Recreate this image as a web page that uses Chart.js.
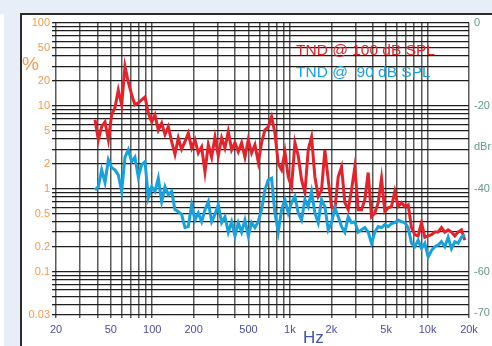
<!DOCTYPE html>
<html><head><meta charset="utf-8">
<script src="https://cdn.jsdelivr.net/npm/chart.js@4.4.1/dist/chart.umd.min.js"></script>
<style>
html,body{margin:0;padding:0;width:492px;height:346px;overflow:hidden;background:#e8eef8;}
#frame{position:absolute;left:20px;top:13px;right:0;bottom:0;background:#fff;border-left:2px solid #2b2b2b;border-top:2px solid #2b2b2b;}
#strip{position:absolute;left:0;top:14px;width:4px;bottom:0;background:#fff;}
canvas{position:absolute;left:0;top:0;}
</style></head><body>
<div id="strip"></div><div id="frame"></div>
<canvas id="c" width="492" height="346"></canvas>
<script>
// ---- data (Hz, % THD+N) ----
const freqHz = [
 38.4,40.6,42.9,45.4,48.0,50.7,53.6,56.7,60.0,63.4,67.0,70.9,74.9,79.2,83.8,88.6,93.7,99.1,104.7,110.7,117.1,123.8,130.9,138.4,146.3,154.7,163.5,172.9,
 182.8,193.3,204.4,216.1,228.5,241.6,255.4,270.1,285.5,301.9,319.2,337.5,356.8,377.3,398.9,421.8,445.9,471.5,498.5,527.1,557.3,589.2,623.0,658.7,696.4,736.3,778.5,823.1,
 870.3,920.1,972.9,1028.6,1087.6,1149.9,1215.8,1285.5,1359.1,1437.0,1519.3,1606.4,1698.4,1795.7,1898.6,2007.4,2122.4,2244.0,2372.5,2508.5,2652.2,2804.1,2964.8,3134.6,3314.2,3504.1,3704.8,3917.0,
 4141,4379,4630,4895,5175,5472,5785,6117,6467,6838,7229,7643,8081,8544,9034,9551,10098,10677,11288,11935,12619,13342,14106,14914,15769,16672,17627,18637
];
const tnd100 = [
 6.8,3.9,5.6,6.4,3.9,7.8,9.5,15.5,10.3,30,19.5,13.6,10.3,10.9,11.8,12.8,8.2,6.4,7.8,5.1,6.2,4.5,5.6,3.7,2.6,4.1,3.0,3.7,
 4.7,3.1,3.9,2.7,3.2,1.6,3.4,2.4,4.2,2.5,4.1,3.1,4.9,2.95,3.6,2.8,3.6,2.4,3.9,2.7,3.4,2.1,3.6,5.1,5.6,7.4,4.7,2.0,
 1.69,2.8,1.39,1.06,3.6,2.5,1.28,0.90,2.95,4.2,1.39,0.81,0.97,2.95,1.28,0.61,0.56,1.39,1.84,0.68,0.56,0.97,1.84,0.56,0.56,0.74,1.57,0.46,
 0.51,0.68,1.34,0.53,0.59,0.61,0.93,0.61,0.68,0.61,0.64,0.34,0.28,0.27,0.39,0.26,0.27,0.28,0.30,0.30,0.34,0.30,0.32,0.30,0.27,0.30,0.32,0.24
];
const tnd90 = [
 0.97,1.06,1.69,1.19,2.24,1.8,1.69,1.47,0.93,2.4,2.95,2.12,2.4,1.39,1.95,2.12,0.78,1.06,0.93,1.34,0.70,1.06,0.85,0.93,0.56,0.53,0.49,0.34,
 0.35,0.64,0.42,0.51,0.40,0.56,0.70,0.40,0.49,0.64,0.39,0.46,0.30,0.40,0.27,0.39,0.30,0.42,0.27,0.39,0.34,0.40,0.56,0.97,1.28,1.34,0.51,0.30,
 0.56,0.74,0.51,0.68,0.81,0.51,0.42,0.74,0.61,0.93,0.51,0.39,0.74,0.61,0.32,0.39,0.59,0.46,0.35,0.30,0.46,0.39,0.40,0.30,0.32,0.34,0.30,0.22,
 0.30,0.35,0.34,0.37,0.35,0.38,0.39,0.42,0.40,0.39,0.34,0.22,0.20,0.24,0.19,0.22,0.15,0.18,0.20,0.21,0.23,0.20,0.26,0.19,0.23,0.22,0.26,0.28
];
const yLabelValues = [100,50,20,10,5,2,1,0.5,0.2,0.1,0.03];
const xLabelValues = [20,50,100,200,500,1000,2000,5000,10000,20000];
const xLabelText   = ['20','50','100','200','500','1k','2k','5k','10k','20k'];
const dbrTickValues = [0,-20,-30,-40,-60,-70];
const dbrTickText   = ['0','-20','dBr','-40','-60','-70'];
const seriesNames = ['TND @ 100 dB SPL','TND @  90 dB SPL'];

// grid tick sets (1..9 per decade)
function decadeTicks(min,max){
  const out=[];
  for(let e=-3;e<=5;e++){for(let m=1;m<=9;m++){const v=+(m*Math.pow(10,e)).toPrecision(6); if(v>=min*0.999&&v<=max*1.001) out.push(v);}}
  return out;
}
const yGrid = decadeTicks(0.03,100);
const xGrid = decadeTicks(20,20000);
const near=(a,b)=>Math.abs(a-b)/Math.abs(b||1)<1e-6;

const FONT='"Liberation Sans", Arial, sans-serif';
const RED='#e5222a', BLUE='#17a2de';

const textPlugin={
  id:'txt',
  afterDraw(chart){
    const ctx=chart.ctx;
    ctx.save();
    ctx.textAlign='left'; ctx.textBaseline='alphabetic';
    ctx.font='15.5px '+FONT;
    ctx.fillStyle=RED;  ctx.fillText(seriesNames[0],296,55);
    ctx.fillStyle=BLUE; ctx.fillText(seriesNames[1],296,77);
    ctx.font='17px '+FONT; ctx.fillStyle='#3f56aa'; ctx.fillText('Hz',303,343);
    ctx.font='19px '+FONT; ctx.fillStyle='#f39a4a'; ctx.fillText('%',22,70);
    ctx.restore();
  }
};

new Chart(document.getElementById('c'),{
  type:'line',
  data:{datasets:[
    {label:seriesNames[0],data:freqHz.map((f,i)=>({x:f,y:tnd100[i]})),borderColor:RED,backgroundColor:RED,borderWidth:3,pointRadius:0,tension:0,order:1,yAxisID:'y'},
    {label:seriesNames[1],data:freqHz.map((f,i)=>({x:f,y:tnd90[i]})),borderColor:BLUE,backgroundColor:BLUE,borderWidth:3,pointRadius:0,tension:0,order:0,yAxisID:'y'}
  ]},
  options:{
    responsive:false,animation:false,devicePixelRatio:1,
    layout:{padding:{top:23,left:0,right:0,bottom:0}},
    plugins:{legend:{display:false},tooltip:{enabled:false}},
    scales:{
      x:{type:'logarithmic',min:20,max:20000,position:'bottom',
        afterBuildTicks:s=>{s.ticks=xGrid.map(v=>({value:v}));},
        afterFit:s=>{s.height=31;},
        grid:{color:'#5a5a5a',lineWidth:1.5,tickLength:3,drawTicks:true},
        border:{display:false},
        ticks:{autoSkip:false,maxRotation:0,padding:5,color:'#4d4da0',font:{size:11,family:FONT},
          callback:(v)=>{const i=xLabelValues.findIndex(l=>near(v,l));return i>=0?xLabelText[i]:'';}}
      },
      y:{type:'logarithmic',min:0.03,max:100,position:'left',
        afterBuildTicks:s=>{s.ticks=yGrid.map(v=>({value:v}));},
        afterFit:s=>{s.width=56;},
        grid:{color:'#1e1e1e',lineWidth:1.3,tickLength:4,drawTicks:true},
        border:{display:false},
        ticks:{autoSkip:false,padding:2,color:'#f39a4a',font:{size:11,family:FONT},
          callback:(v)=>{const i=yLabelValues.findIndex(l=>near(v,l));return i>=0?String(yLabelValues[i]):'';}}
      },
      y2:{type:'linear',min:20*Math.log10(0.03/100),max:0,position:'right',
        afterBuildTicks:s=>{s.ticks=dbrTickValues.map(v=>({value:v}));},
        afterFit:s=>{s.width=23;},
        grid:{display:false,drawTicks:false},
        border:{display:false},
        ticks:{autoSkip:false,padding:5,color:'#5f9b8a',font:{size:11,family:FONT},crossAlign:'near',
          callback:(v)=>{const i=dbrTickValues.findIndex(l=>l===v);return i>=0?dbrTickText[i]:'';}}
      }
    }
  },
  plugins:[textPlugin]
});
</script>
</body></html>
